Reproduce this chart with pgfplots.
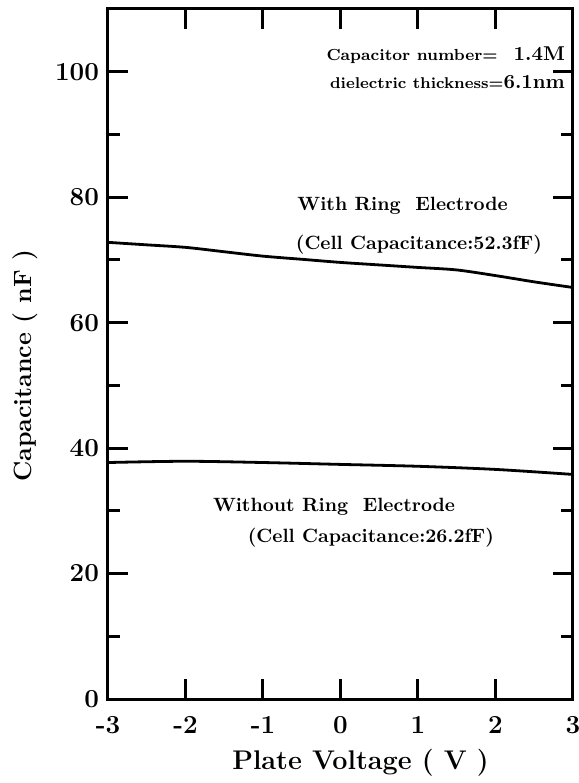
\documentclass[border=0pt]{standalone}
\usepackage{pgfplots}
\pgfplotsset{compat=1.18}
\begin{document}
\begin{tikzpicture}
\begin{axis}[
  scale only axis,
  width=232.5pt, height=345pt,
  xmin=-3, xmax=3, ymin=0, ymax=110,
  axis line style={line width=1.5pt},
  xtick={-3,-2,-1,0,1,2,3},
  xticklabels={-3,-2,-1,0,1,2,3},
  ytick={0,20,40,60,80,100},
  yticklabels={0,20,40,60,80,100},
  minor ytick={10,30,50,70,90},
  tick align=inside,
  major tick length=10pt,
  minor tick length=6pt,
  tick style={line width=1.5pt, black},
  every tick label/.style={font=\bfseries\fontsize{13}{13}\selectfont},
  xticklabel style={yshift=-5pt},
  yticklabel style={xshift=-1pt},
  xlabel={\bfseries\fontsize{13.5}{14}\selectfont Plate Voltage ( V )},
  ylabel={\bfseries\fontsize{12.5}{13}\selectfont Capacitance ( nF )},
  xlabel style={at={(ticklabel cs:0.543)}, yshift=-1pt},
  ylabel style={at={(ticklabel cs:0.483)}, yshift=2pt},
  clip=false,
]
\addplot[black, line width=1.4pt, smooth] coordinates {
(-3,72.8) (-2.5,72.4) (-2,72.0) (-1.5,71.3) (-1,70.6) (-0.5,70.1) (0,69.6) (0.5,69.2) (1,68.8) (1.5,68.4) (2,67.5) (2.5,66.5) (3,65.6)
};
\addplot[black, line width=1.4pt, smooth] coordinates {
(-3,37.7) (-2,37.9) (-1,37.7) (0,37.4) (1,37.1) (2,36.6) (3,35.8)
};
\node[anchor=west, inner sep=0pt, font=\bfseries\fontsize{9.6}{11}\selectfont] at (axis cs:-0.56,78.6) {With Ring\ \ Electrode};
\node[anchor=west, inner sep=0pt, font=\bfseries\fontsize{9.6}{11}\selectfont] at (axis cs:-0.58,72.5) {(Cell Capacitance:52.3fF)};
\node[anchor=west, inner sep=0pt, font=\bfseries\fontsize{9.6}{11}\selectfont] at (axis cs:-1.65,30.7) {Without Ring\ \ Electrode};
\node[anchor=west, inner sep=0pt, font=\bfseries\fontsize{9.6}{11}\selectfont] at (axis cs:-1.20,25.7) {(Cell Capacitance:26.2fF)};
\node[anchor=east, inner sep=0pt] at (axis cs:2.9,102.6) {\bfseries\fontsize{8}{9}\selectfont Capacitor number=\quad\fontsize{10}{10}\selectfont 1.4M};
\node[anchor=east, inner sep=0pt] at (axis cs:2.9,98.3) {\bfseries\fontsize{7.8}{9}\selectfont dielectric thickness=\fontsize{10}{10}\selectfont 6.1nm};
\end{axis}
\pgfresetboundingbox
\path[use as bounding box] ([shift={(-54pt,-42pt)}]current axis.south west) rectangle ([shift={(3pt,4.5pt)}]current axis.north east);
\end{tikzpicture}
\end{document}
